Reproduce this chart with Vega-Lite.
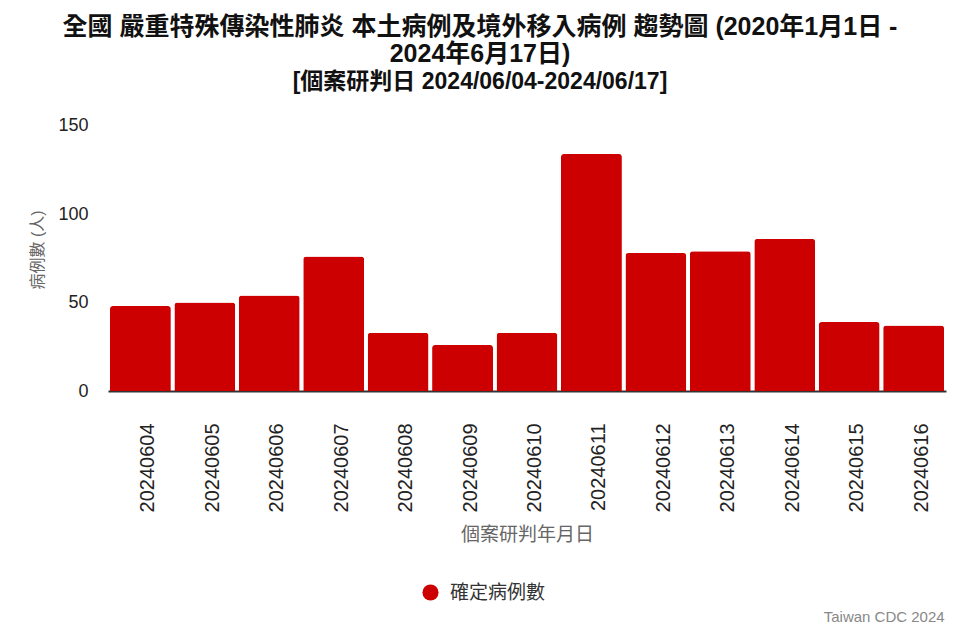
{
  "$schema": "https://vega.github.io/schema/vega-lite/v6.json",
  "autosize": {"type": "none"},
  "width": 838,
  "height": 283,
  "padding": {"left": 108, "top": 108, "right": 14, "bottom": 249},
  "background": "white",
  "config": {
    "view": {"stroke": null},
    "font": "Liberation Sans, Noto Sans CJK TC"
  },
  "title": {
    "text": ["全國 嚴重特殊傳染性肺炎 本土病例及境外移入病例 趨勢圖 (2020年1月1日 -", "2024年6月17日)"],
    "subtitle": "[個案研判日 2024/06/04-2024/06/17]",
    "font": "Liberation Sans, Noto Sans CJK TC",
    "fontSize": 25,
    "fontWeight": "bold",
    "color": "#111111",
    "lineHeight": 27,
    "subtitleFont": "Liberation Sans, Noto Sans CJK TC",
    "subtitleFontSize": 23,
    "subtitleFontWeight": "bold",
    "subtitleColor": "#111111",
    "subtitlePadding": 4,
    "anchor": "middle",
    "dx": -47,
    "dy": 4,
    "offset": 18
  },
  "datasets": {
    "cases": [
      {"date": "20240604", "count": 48},
      {"date": "20240605", "count": 50},
      {"date": "20240606", "count": 54},
      {"date": "20240607", "count": 76},
      {"date": "20240608", "count": 33},
      {"date": "20240609", "count": 26},
      {"date": "20240610", "count": 33},
      {"date": "20240611", "count": 134},
      {"date": "20240612", "count": 78},
      {"date": "20240613", "count": 79},
      {"date": "20240614", "count": 86},
      {"date": "20240615", "count": 39},
      {"date": "20240616", "count": 37}
    ],
    "source": [
      {"date": "20240616", "pos": -128, "label": "Taiwan CDC 2024"}
    ]
  },
  "layer": [
    {
      "data": {"name": "cases"},
      "mark": {"type": "bar", "cornerRadiusTopLeft": 3, "cornerRadiusTopRight": 3},
      "encoding": {
        "x": {
          "field": "date",
          "type": "nominal",
          "sort": null,
          "scale": {"paddingInner": 0.055, "paddingOuter": 0.03},
          "axis": {
            "title": "個案研判年月日",
            "titleFont": "Liberation Sans, Noto Sans CJK TC",
            "titleFontSize": 19,
            "titleFontWeight": "normal",
            "titleColor": "#666666",
            "titlePadding": 14,
            "labelAngle": -90,
            "labelFontSize": 20,
            "labelColor": "#222222",
            "labelPadding": 32,
            "labelOffset": 8,
            "ticks": false,
            "domainColor": "#333333",
            "domainWidth": 2,
            "grid": false
          }
        },
        "y": {
          "field": "count",
          "type": "quantitative",
          "scale": {"domain": [0, 150]},
          "axis": {
            "title": "病例數 (人)",
            "titleFont": "Liberation Sans, Noto Sans CJK TC",
            "titleFontSize": 16,
            "titleFontWeight": "normal",
            "titleColor": "#666666",
            "titlePadding": 12,
            "values": [0, 50, 100, 150],
            "labelFontSize": 18,
            "labelColor": "#222222",
            "labelPadding": 20,
            "ticks": false,
            "domain": false,
            "grid": false
          }
        },
        "color": {
          "datum": "確定病例數",
          "type": "nominal",
          "scale": {"range": ["#CC0000"]},
          "legend": {
            "title": null,
            "orient": "none",
            "legendX": 313,
            "legendY": 475,
            "symbolType": "circle",
            "symbolSize": 260,
            "symbolStrokeWidth": 0,
            "labelFontSize": 19,
            "labelColor": "#333333",
            "labelFont": "Liberation Sans, Noto Sans CJK TC",
            "labelOffset": 10
          }
        }
      }
    },
    {
      "data": {"name": "source"},
      "mark": {"type": "text", "align": "right", "baseline": "middle", "fontSize": 15, "color": "#888888", "dx": 31},
      "encoding": {
        "x": {"field": "date", "type": "nominal"},
        "y": {"field": "pos", "type": "quantitative"},
        "text": {"field": "label"}
      }
    }
  ]
}
